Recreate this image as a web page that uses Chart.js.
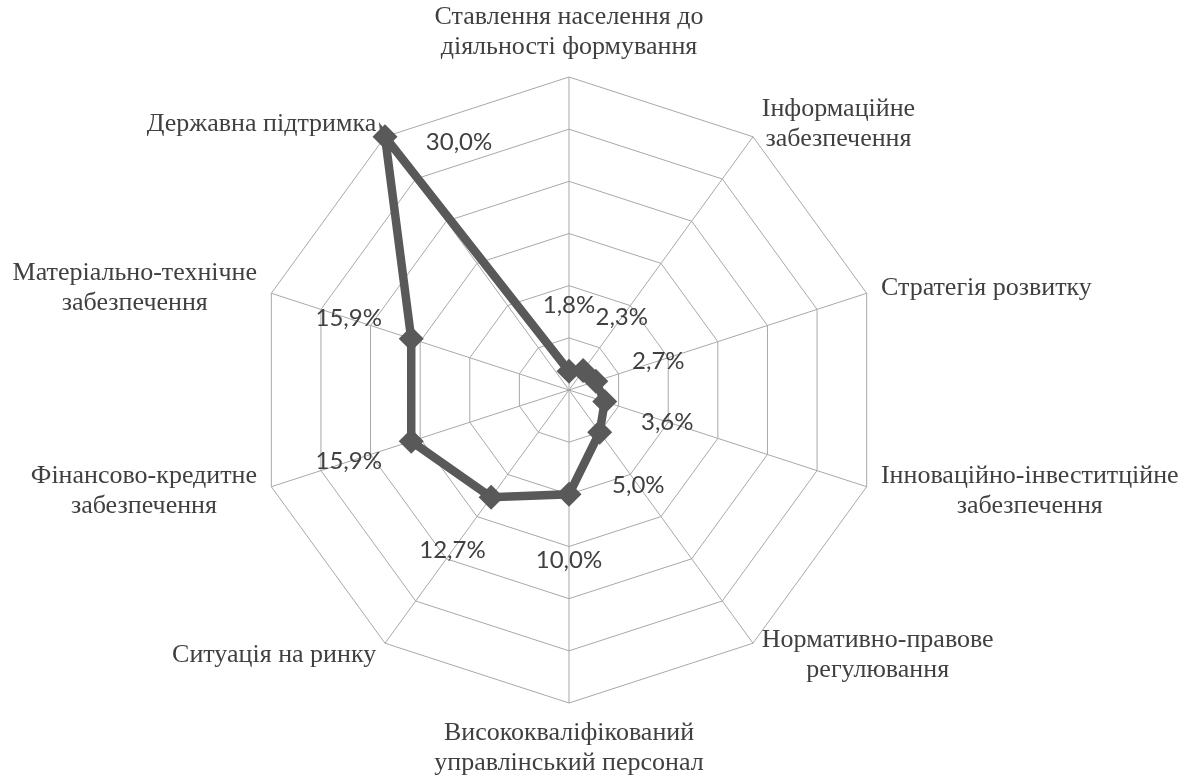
<!DOCTYPE html>
<html>
<head>
<meta charset="utf-8">
<script src="https://cdn.jsdelivr.net/npm/chart.js@4/dist/chart.umd.min.js"></script>
<style>
  html, body { margin: 0; padding: 0; background: #fff; }
  canvas { display: block; }
</style>
</head>
<body>
<canvas id="myChart" width="1195" height="778"></canvas>
<script>
// Categories, clockwise from the top
var categories = [
    ['Ставлення населення до', 'діяльності формування'],
    ['Інформаційне', 'забезпечення'],
    ['Стратегія розвитку'],
    ['Інноваційно-інвеститційне', 'забезпечення'],
    ['Нормативно-правове', 'регулювання'],
    ['Висококваліфікований', 'управлінський персонал'],
    ['Ситуація на ринку'],
    ['Фінансово-кредитне', 'забезпечення'],
    ['Матеріально-технічне', 'забезпечення'],
    ['Державна підтримка']
];

// Share of each factor, %
var values = [1.8, 2.3, 2.7, 3.6, 5.0, 10.0, 12.7, 15.9, 15.9, 30.0];
var valueLabels = ['1,8%', '2,3%', '2,7%', '3,6%', '5,0%', '10,0%', '12,7%', '15,9%', '15,9%', '30,0%'];

// Axis range
var axisMin = 0;
var axisMax = 30;
var axisStep = 5;

var textColor = '#404040';
var lineColor = '#595959';
var gridColor = '#a8a8a8';

// Draws category names (under the series) and value labels (over it)
var labelPlugin = {
    id: 'radarLabels',
    beforeDatasetsDraw: function(chart) {
        var scale = chart.scales.r;
        var ctx = chart.ctx;
        var lineH = 30;
        ctx.save();
        ctx.font = '26px "Liberation Serif"';
        ctx.fillStyle = textColor;
        ctx.textAlign = 'center';
        ctx.textBaseline = 'middle';
        categories.forEach(function(lines, i) {
            var p = scale.getPointPosition(i, scale.drawingArea + 15);
            var angle = 360 * i / categories.length;
            var w = Math.max.apply(null, lines.map(function(l) { return ctx.measureText(l).width; }));
            var h = lines.length * lineH;
            var cx, top;
            if (angle === 0) { cx = p.x; top = p.y - h; }
            else if (angle === 180) { cx = p.x; top = p.y; }
            else if (angle < 180) { cx = p.x + w / 2; top = p.y - h / 2; }
            else { cx = p.x - w / 2; top = p.y - h / 2; }
            lines.forEach(function(l, k) {
                ctx.fillText(l, cx, top + lineH / 2 + k * lineH);
            });
        });
        ctx.restore();
    },
    afterDatasetsDraw: function(chart) {
        var scale = chart.scales.r;
        var ctx = chart.ctx;
        ctx.save();
        ctx.font = '24px Lato';
        ctx.fillStyle = textColor;
        ctx.textAlign = 'center';
        ctx.textBaseline = 'middle';
        values.forEach(function(v, i) {
            var p;
            if (v + 6.3 <= scale.max) {
                p = scale.getPointPositionForValue(i, v + 6.3);
            } else {
                var q = scale.getPointPositionForValue(i, v);
                p = { x: q.x + 74, y: q.y + 5 };
            }
            ctx.fillText(valueLabels[i], p.x, p.y);
        });
        ctx.restore();
    }
};

var ctx = document.getElementById('myChart').getContext('2d');

var myChart = new Chart(ctx, {
    type: 'radar',
    data: {
        labels: categories,
        datasets: [{
            data: values,
            borderColor: lineColor,
            backgroundColor: lineColor,
            borderWidth: 8.5,
            fill: false,
            tension: 0,
            pointStyle: 'rectRot',
            pointRadius: 12.5,
            pointBorderWidth: 0,
            pointBackgroundColor: lineColor
        }]
    },
    options: {
        responsive: false,
        animation: false,
        layout: { padding: { top: 77, bottom: 75, left: 0, right: 56 } },
        plugins: {
            legend: { display: false },
            tooltip: { enabled: false }
        },
        scales: {
            r: {
                min: axisMin,
                max: axisMax,
                ticks: { stepSize: axisStep, display: false },
                pointLabels: { display: false },
                grid: { color: gridColor, lineWidth: 1 },
                angleLines: { color: gridColor, lineWidth: 1 }
            }
        }
    },
    plugins: [labelPlugin]
});
</script>
</body>
</html>
